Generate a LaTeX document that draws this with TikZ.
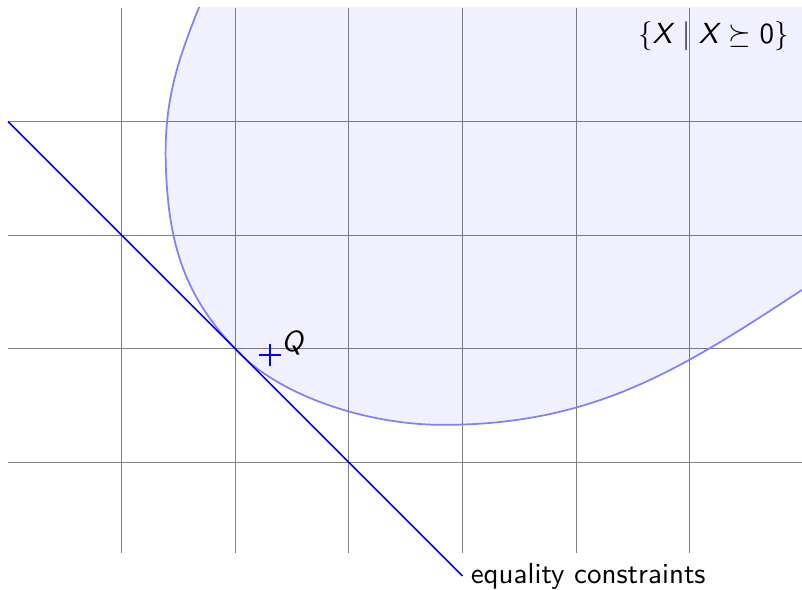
\documentclass[tikz,border=0pt]{standalone}
\usepackage{amsmath,amssymb}
\usepackage{tikz}
\usetikzlibrary{positioning}

\newcommand{\sv}[1]{\text{\sffamily\itshape #1\/}}

\begin{document}
\begin{tikzpicture}[
    x=1.5cm, y=1.5cm,
    every node/.style={font=\sffamily\fontsize{10.9pt}{13pt}\selectfont},
    gridln/.style={gray, line width=0.3pt},
    psdset/.style={draw=blue!50, fill=blue, fill opacity=0.06, draw opacity=1, line width=0.65pt},
    eqc/.style={blue, line width=0.6pt},
    qcross/.style={blue, line width=0.7pt},
    lbl/.style={inner sep=3pt},
  ]
  \useasboundingbox (-0.07,-0.12) rectangle (6.99,5.07);
  % grid
  \foreach \x in {1,...,6}
    \draw[gridln] (\x,0.2) -- (\x,5);
  \foreach \y in {1,...,4}
    \draw[gridln] (0,\y) -- (7,\y);
  % the cone
  \begin{scope}
    \clip (0,0.2) rectangle (7,5);
    \path[psdset] (1.76,5.2) to[out=-112,in=92] (1.39,3.6)
      to[out=-88,in=135] (2.05,1.95)
      .. controls (2.40,1.60) and (3.13,1.33) .. (3.83,1.33)
      to[out=0,in=-147] (7.3,2.72)
      -- (7.3,5.3) -- cycle;
  \end{scope}
  % affine subspace
  \coordinate (ln0) at (0,4);
  \coordinate (ln1) at (4,0);
  \draw[eqc] (ln0) -- (ln1);
  \node[lbl, right] (eqlbl) at (ln1) {equality constraints};
  % point Q
  \coordinate (qpt) at (2.306,1.942);
  \draw[qcross] (qpt) +(-0.097,0) -- +(0.097,0)
                (qpt) +(0,-0.097) -- +(0,0.097);
  \node[inner sep=0pt] (qlbl) at (2.51,2.05) {$\sv{Q}$};
  \node[lbl] (setlbl) at (6.21,4.75) {$\{\sv{X} \mid \sv{X} \succeq \text{\sffamily 0}\}$};
\end{tikzpicture}
\end{document}
